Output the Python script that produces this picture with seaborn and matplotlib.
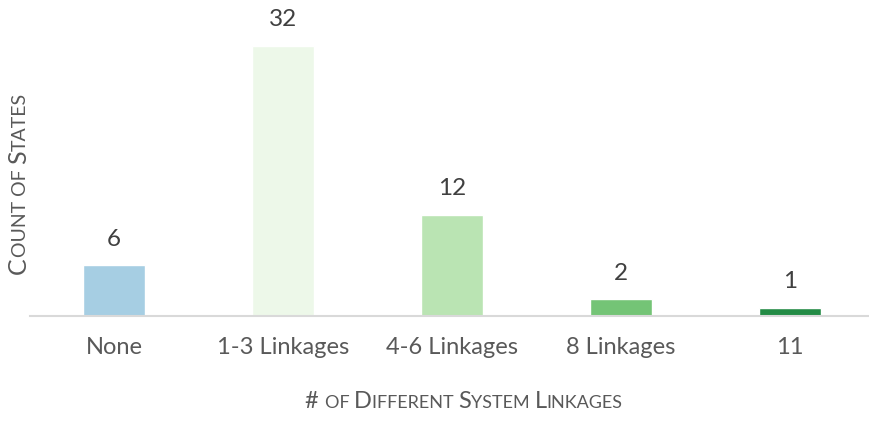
import matplotlib
matplotlib.use("Agg")
import matplotlib.pyplot as plt
from matplotlib.transforms import IdentityTransform
import seaborn as sns
import pandas as pd

# data
categories = ["None", "1-3 Linkages", "4-6 Linkages", "8 Linkages", "11"]
counts = [6, 32, 12, 2, 1]
bar_colors = ["#a6cee3", "#edf8e9", "#bae4b3", "#74c476", "#238b45"]

sns.set_theme(style="white")
plt.rcParams["font.family"] = ["Lato", "DejaVu Sans"]

TXT = "#595959"

df = pd.DataFrame({"linkages": categories, "states": counts})

fig = plt.figure(figsize=(8.7, 4.23), dpi=100)
ax = fig.add_axes([29.5 / 870, 107 / 423, 845 / 870, 316 / 423])

sns.barplot(data=df, x="linkages", y="states", hue="linkages",
            palette=bar_colors, width=0.37, legend=False, ax=ax, saturation=1)

ax.set_xlim(-0.5, 4.5)
ax.set_ylim(0, 37.4)
for s in ["top", "right", "left"]:
    ax.spines[s].set_visible(False)
ax.spines["bottom"].set_color("#d9d9d9")
ax.spines["bottom"].set_linewidth(1.5)
ax.set_yticks([])
ax.tick_params(axis="x", length=0, pad=15, labelsize=17, labelcolor=TXT)
ax.set_xlabel("")
ax.set_ylabel("")

for i, v in enumerate(counts):
    ax.annotate(str(v), (i, v), xytext=(0, 11), textcoords="offset points",
                ha="center", va="bottom", fontsize=17.5, color="#404040")


def small_caps(parts, x, y, vertical=False):
    # draw text pieces one after another, then center the whole run on (x, y)
    fig.canvas.draw()
    r = fig.canvas.get_renderer()
    items = []
    pos = 0.0
    for txt, size in parts:
        t = fig.text(0, 0, txt, fontsize=size, color=TXT,
                     rotation=90 if vertical else 0, rotation_mode="anchor",
                     ha="left", va="baseline", transform=IdentityTransform())
        bb = t.get_window_extent(r)
        items.append((t, pos))
        pos += bb.height if vertical else bb.width
    for t, p in items:
        if vertical:
            t.set_position((x, y - pos / 2 + p))
        else:
            t.set_position((x - pos / 2 + p, y))


small_caps([("# ", 17), ("OF ", 13), ("D", 17), ("IFFERENT ", 13),
            ("S", 17), ("YSTEM ", 13), ("L", 17), ("INKAGES", 13)],
           464, 423 - 408)
small_caps([("C", 18), ("OUNT OF ", 14), ("S", 18), ("TATES", 14)],
           26, 423 - 183, vertical=True)

fig.savefig("out.png", dpi=100)
